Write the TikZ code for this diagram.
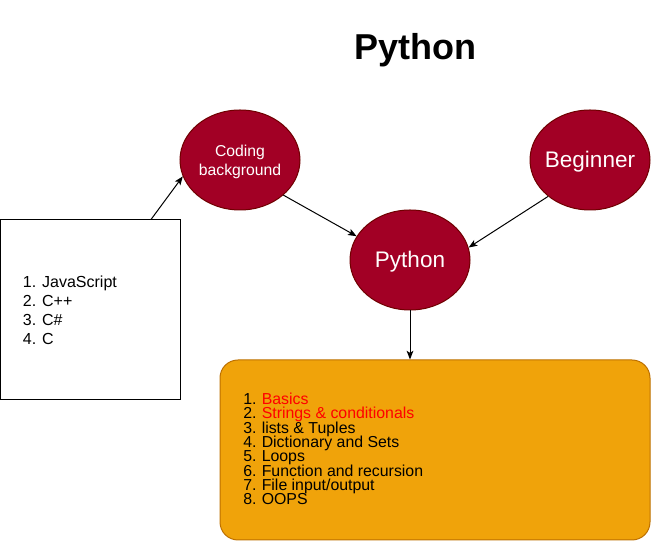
\documentclass[tikz,border=0pt]{standalone}
\usepackage{fontspec}
\setmainfont{Liberation Sans}
\usetikzlibrary{arrows.meta,calc,shapes.geometric}
\definecolor{wine}{HTML}{A20025}
\definecolor{wineline}{HTML}{6F0000}
\definecolor{amber}{HTML}{F0A30A}
\definecolor{amberline}{HTML}{BD7000}
\definecolor{redtxt}{HTML}{FF0000}
\tikzset{
  bubble/.style={ellipse, draw=wineline, fill=wine, line width=0.75pt,
    minimum width=90pt, minimum height=75pt, inner sep=0pt},
  bubbletxt/.style={inner sep=0pt, anchor=base, text=white},
  conn/.style={line width=0.75pt, -{Stealth[length=6.5pt,width=5pt,inset=1.5pt]}},
  listtxt/.style={inner sep=0pt, anchor=base west, font=\fontsize{12}{14}\selectfont},
  topictxt/.style={inner sep=0pt, anchor=base west, font=\fontsize{11.9}{13}\selectfont},
}
\begin{document}
\begin{tikzpicture}[x=0.75pt,y=-0.75pt]
\useasboundingbox (0,0) rectangle (651,548);

\node[inner sep=0pt, anchor=base, font=\fontsize{27}{32}\selectfont\bfseries] (title) at (415,60) {Python};

\node[bubble] (coding) at (240,160) {};
\node[bubble] (python) at (410,260) {};
\node[bubble] (beginner) at (590,160) {};
\node[bubbletxt, font=\fontsize{11.8}{14.5}\selectfont] (codingA) at (240,156.7) {Coding};
\node[bubbletxt, font=\fontsize{11.8}{14.5}\selectfont] (codingB) at (240,176) {background};
\node[bubbletxt, font=\fontsize{16.9}{20}\selectfont] (pythonlbl) at (410,267.5) {Python};
\node[bubbletxt, font=\fontsize{16.9}{20}\selectfont] (beginnerlbl) at (590,167.5) {Beginner};

\node[draw=black, line width=0.75pt, minimum width=135pt, minimum height=135pt, inner sep=0pt] (langs) at (90.5,310) {};

\node[draw=amberline, fill=amber, line width=0.75pt, rounded corners=13.5pt,
      minimum width=322.5pt, minimum height=135pt, inner sep=0pt] (topics) at (435,450) {};

\foreach \n/\t [count=\i from 0] in {1/JavaScript, 2/C++, 3/C\#, 4/C} {
  \node[listtxt] (ln\n) at (22.7,{287.3+19.2*\i}) {\n.};
  \node[listtxt] (lt\n) at (41.9,{287.3+19.2*\i}) {\t};
}

\foreach \n/\t/\c [count=\i from 0] in {1/Basics/redtxt, 2/{Strings \& conditionals}/redtxt,
    3/{lists \& Tuples}/black, 4/{Dictionary and Sets}/black, 5/Loops/black,
    6/{Function and recursion}/black, 7/{File input/output}/black, 8/OOPS/black} {
  \node[topictxt] (tn\n) at (243,{404.3+14.38*\i}) {\n.};
  \node[topictxt, text=\c] (tt\n) at (261.5,{404.3+14.38*\i}) {\t};
}

\draw[conn] ($(langs.north)+(60.5,0)$) -- (coding.196);
\draw[conn] (coding.-39) -- (python.156);
\draw[conn] (beginner.221) -- (python.12);
\draw[conn] (python.south) -- (topics.north -| python.south);
\end{tikzpicture}
\end{document}
